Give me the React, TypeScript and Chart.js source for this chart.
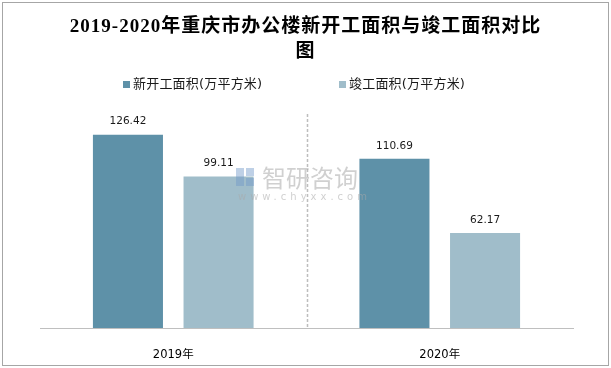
import React, { useEffect, useRef } from "react";
import { Chart, registerables } from "chart.js";

Chart.register(...registerables);

const categories = ["2019年", "2020年"];
const newStarted = [126.42, 110.69];
const completed = [99.11, 62.17];
const seriesNames = ["新开工面积(万平方米)", "竣工面积(万平方米)"];
const seriesColors = ["#5e91a8", "#a0bdca"];
const titleLines = ["2019-2020年重庆市办公楼新开工面积与竣工面积对比", "图"];
const yMax = 140;

const SANS = '"DejaVu Sans", "Noto Sans CJK SC", sans-serif';

const decor = {
  id: "decor",
  beforeDraw(chart: any) {
    const ctx = chart.ctx;
    ctx.save();
    ctx.fillStyle = "#ffffff";
    ctx.fillRect(0, 0, chart.width, chart.height);
    ctx.strokeStyle = "#a6a6a6";
    ctx.lineWidth = 1;
    ctx.strokeRect(2.5, 2.5, chart.width - 5, chart.height - 5);
    ctx.restore();
  },
  afterDatasetsDraw(chart: any) {
    const ctx = chart.ctx;
    const area = chart.chartArea;
    const xs = chart.scales.x;
    ctx.save();
    // dashed separator between categories
    const sepX = Math.round((xs.getPixelForValue(0) + xs.getPixelForValue(1)) / 2) + 0.5;
    ctx.strokeStyle = "#bdbdbd";
    ctx.lineWidth = 1.5;
    ctx.setLineDash([3, 2]);
    ctx.beginPath();
    ctx.moveTo(sepX, area.top);
    ctx.lineTo(sepX, area.bottom);
    ctx.stroke();
    ctx.setLineDash([]);

    // data labels
    ctx.fillStyle = "#1a1a1a";
    ctx.font = "10.5px " + SANS;
    ctx.textAlign = "center";
    ctx.textBaseline = "middle";
    chart.data.datasets.forEach((ds: any, di: number) => {
      const meta = chart.getDatasetMeta(di);
      meta.data.forEach((bar: any, i: number) => {
        ctx.fillText(ds.data[i].toFixed(2), bar.x, bar.y - 13);
      });
    });

    // watermark
    ctx.fillStyle = "rgba(170,170,170,0.55)";
    ctx.font = '24px "Noto Sans CJK SC", sans-serif';
    ctx.textAlign = "left";
    ctx.fillText("智研咨询", 262, 178);
    ctx.font = "10px " + SANS;
    (ctx as any).letterSpacing = "4px";
    ctx.fillText("www.chyxx.com", 238, 197);
    (ctx as any).letterSpacing = "0px";
    ctx.fillStyle = "rgba(110,150,200,0.45)";
    ctx.fillRect(236, 168, 8, 18);
    ctx.fillRect(246, 168, 8, 8);
    ctx.fillRect(246, 178, 8, 8);

    // title
    ctx.fillStyle = "#000000";
    ctx.font = 'bold 19px "Liberation Serif", "Noto Sans CJK SC", serif';
    (ctx as any).letterSpacing = "1px";
    ctx.textAlign = "center";
    ctx.textBaseline = "middle";
    ctx.fillText(titleLines[0], chart.width / 2, 27);
    ctx.fillText(titleLines[1], chart.width / 2, 52);

    // legend
    ctx.font = "13px " + SANS;
    (ctx as any).letterSpacing = "0.2px";
    ctx.textAlign = "left";
    const legendX = [123, 339];
    seriesNames.forEach((name, i) => {
      ctx.fillStyle = seriesColors[i];
      ctx.fillRect(legendX[i], 81, 7, 7);
      ctx.fillStyle = "#1a1a1a";
      ctx.fillText(name, legendX[i] + 10, 84.5);
    });
    (ctx as any).letterSpacing = "0px";
    ctx.restore();
  },
};

export default function App() {
  const ref = useRef<HTMLCanvasElement | null>(null);
  useEffect(() => {
    if (!ref.current) return;
    const chart = new Chart(ref.current, {
      type: "bar",
      data: {
        labels: categories,
        datasets: [
          {
            label: seriesNames[0],
            data: newStarted,
            backgroundColor: seriesColors[0],
            barPercentage: 0.773,
            categoryPercentage: 0.68,
          },
          {
            label: seriesNames[1],
            data: completed,
            backgroundColor: seriesColors[1],
            barPercentage: 0.773,
            categoryPercentage: 0.68,
          },
        ],
      },
      options: {
        animation: false,
        responsive: false,
        devicePixelRatio: 1,
        layout: { padding: { top: 114, left: 40, right: 38, bottom: 6 } },
        plugins: {
          legend: { display: false },
          title: { display: false },
          tooltip: { enabled: false },
        },
        scales: {
          x: {
            grid: { display: false, drawTicks: false },
            border: { display: true, color: "#bfbfbf", width: 1 },
            ticks: {
              color: "#000000",
              font: { family: SANS, size: 11.5 },
              padding: 20,
            },
            afterFit(scale: any) {
              scale.height = 34;
            },
          },
          y: { display: false, min: 0, max: yMax },
        },
      },
      plugins: [decor],
    });
    return () => chart.destroy();
  }, []);
  return (
    <div style={{ position: "fixed", left: 0, top: 0, width: 611, height: 368 }}>
      <canvas ref={ref} width={611} height={368} style={{ width: 611, height: 368 }} />
    </div>
  );
}
